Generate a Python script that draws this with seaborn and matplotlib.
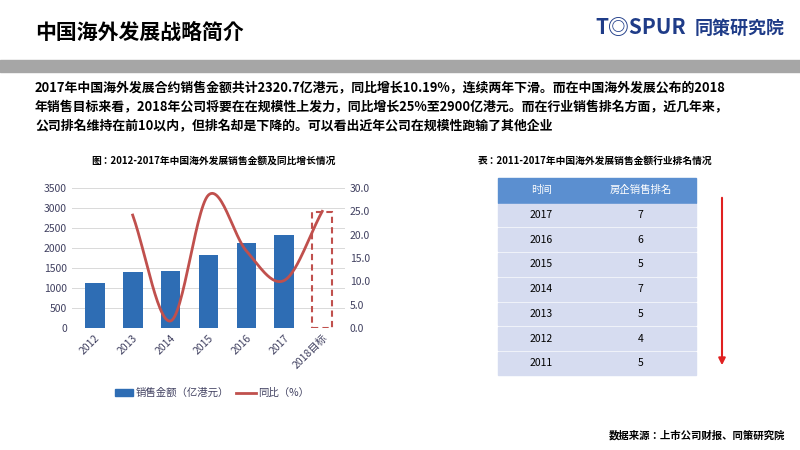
import numpy as np
import pandas as pd
import matplotlib
matplotlib.use("Agg")
import matplotlib.pyplot as plt
import seaborn as sns
from matplotlib.patches import Rectangle, FancyArrowPatch
from matplotlib import font_manager as fm

names = {f.name for f in fm.fontManager.ttflist}
cjk = [n for n in ["Noto Sans CJK SC", "Noto Sans CJK JP", "Noto Sans CJK TC", "Noto Sans CJK KR"] if n in names]
plt.rcParams["font.family"] = "sans-serif"
plt.rcParams["font.sans-serif"] = cjk + ["DejaVu Sans"]

years = ["2012", "2013", "2014", "2015", "2016", "2017", "2018目标"]
sales = [1130, 1410, 1430, 1830, 2120, 2320.7, None]
target_2018 = 2900
growth = [None, 24.2, 1.5, 28.5, 16.5, 10.2, 25.0]
rank_years = ["2017", "2016", "2015", "2014", "2013", "2012", "2011"]
ranks = [7, 6, 5, 7, 5, 4, 5]

W, H = 800, 450
fig = plt.figure(figsize=(8, 4.5), dpi=100)
fig.patch.set_facecolor("white")

def fx(x): return x / W
def fy(y): return 1 - y / H

fig.text(fx(35), fy(32), "中国海外发展战略简介", fontsize=15, fontweight="bold", va="center")
fig.text(fx(595), fy(28), "T◎SPUR", fontsize=15, fontweight="bold", style="italic", color="#1F3C88", va="center")
fig.text(fx(695), fy(28), "同策研究院", fontsize=13, fontweight="bold", color="#1F3C88", va="center")
fig.patches.append(Rectangle((0, fy(72)), 1, 12 / H, transform=fig.transFigure, color="#A6A6A6"))
para = ["2017年中国海外发展合约销售金额共计2320.7亿港元，同比增长10.19%，连续两年下滑。而在中国海外发展公布的2018",
        "年销售目标来看，2018年公司将要在在规模性上发力，同比增长25%至2900亿港元。而在行业销售排名方面，近几年来，",
        "公司排名维持在前10以内，但排名却是下降的。可以看出近年公司在规模性跑输了其他企业"]
for i, l in enumerate(para):
    fig.text(fx(35), fy(88 + i * 19), l, fontsize=9.3, fontweight="bold", va="center")
fig.text(fx(213), fy(161), "图：2012-2017年中国海外发展销售金额及同比增长情况", fontsize=7, fontweight="bold", ha="center", va="center")
fig.text(fx(595), fy(161), "表：2011-2017年中国海外发展销售金额行业排名情况", fontsize=7, fontweight="bold", ha="center", va="center")
fig.text(fx(785), fy(435), "数据来源：上市公司财报、同策研究院", fontsize=7.5, fontweight="bold", ha="right", va="center")

# chart
ax = fig.add_axes([fx(72), fy(328), fx(345 - 72), (328 - 188) / H])
df = pd.DataFrame({"year": years[:6], "sales": sales[:6]})
sns.barplot(data=df, x="year", y="sales", color="#2E6DB4", width=0.52, ax=ax, order=years, saturation=1)
ax.add_patch(Rectangle((6 - 0.26, 0), 0.52, target_2018, fill=False, ec="#C0504D", ls=(0, (3, 2)), lw=1.5))
ax.set_xlim(-0.6, 6.6)
ax.set_ylim(0, 3500)
ax.set_yticks(range(0, 3501, 500))
ax.yaxis.grid(True, color="#D9D9D9", lw=0.7)
ax.set_axisbelow(True)
for s in ax.spines.values(): s.set_visible(False)
ax.tick_params(length=0, labelsize=7.5, colors="#404060")
ax.set_xticks(range(7)); ax.set_xticklabels(years, rotation=45, ha="right", rotation_mode="anchor")
ax.set_xlabel(""); ax.set_ylabel("")

ax2 = ax.twinx()
gx = np.array([i for i, g in enumerate(growth) if g is not None], float)
gy = np.array([g for g in growth if g is not None], float)
P = np.concatenate([[2 * gy[0] - gy[1]], gy, [2 * gy[-1] - gy[-2]]])
xs, ys = [], []
for i in range(len(gy) - 1):
    t = np.linspace(0, 1, 30)
    p0, p1, p2, p3 = P[i], P[i + 1], P[i + 2], P[i + 3]
    ys.extend(0.5 * (2 * p1 + (-p0 + p2) * t + (2 * p0 - 5 * p1 + 4 * p2 - p3) * t**2 + (-p0 + 3 * p1 - 3 * p2 + p3) * t**3))
    xs.extend(gx[i] + t)
sns.lineplot(x=xs, y=ys, color="#C0504D", lw=2, ax=ax2, sort=False)
ax2.set_ylim(0, 30)
ax2.set_yticks(np.arange(0, 30.1, 5))
ax2.set_yticklabels([f"{v:.1f}" for v in np.arange(0, 30.1, 5)])
for s in ax2.spines.values(): s.set_visible(False)
ax2.tick_params(length=0, labelsize=7.5, colors="#404060")

lax = fig.add_axes([0, 0, 1, 1]); lax.axis("off"); lax.set_xlim(0, W); lax.set_ylim(H, 0)
lax.add_patch(Rectangle((115, 389), 18, 7, color="#2E6DB4"))
lax.text(136, 393, "销售金额（亿港元）", fontsize=7.5, va="center", color="#404060")
lax.plot([236, 256], [393, 393], color="#C0504D", lw=2)
lax.text(258, 393, "同比（%）", fontsize=7.5, va="center", color="#404060")

# table
x0, x1, xm = 498, 696, 585
rh = 24.7
lax.add_patch(Rectangle((x0, 178), x1 - x0, rh, color="#5B8FD0"))
lax.text((x0 + xm) / 2, 178 + rh / 2, "时间", color="white", fontsize=7.5, ha="center", va="center")
lax.text((xm + x1) / 2, 178 + rh / 2, "房企销售排名", color="white", fontsize=7.5, ha="center", va="center")
for i, (yr, r) in enumerate(zip(rank_years, ranks)):
    y = 178 + rh * (i + 1)
    lax.add_patch(Rectangle((x0, y + 1), x1 - x0, rh - 2, color="#D6DCF0"))
    lax.text((x0 + xm) / 2, y + rh / 2, yr, fontsize=7.5, ha="center", va="center")
    lax.text((xm + x1) / 2, y + rh / 2, str(r), fontsize=7.5, ha="center", va="center")
lax.add_patch(FancyArrowPatch((722, 195), (722, 368), arrowstyle="-|>", mutation_scale=10, color="#E02020", lw=1.5))

fig.savefig("out.png", dpi=100)
